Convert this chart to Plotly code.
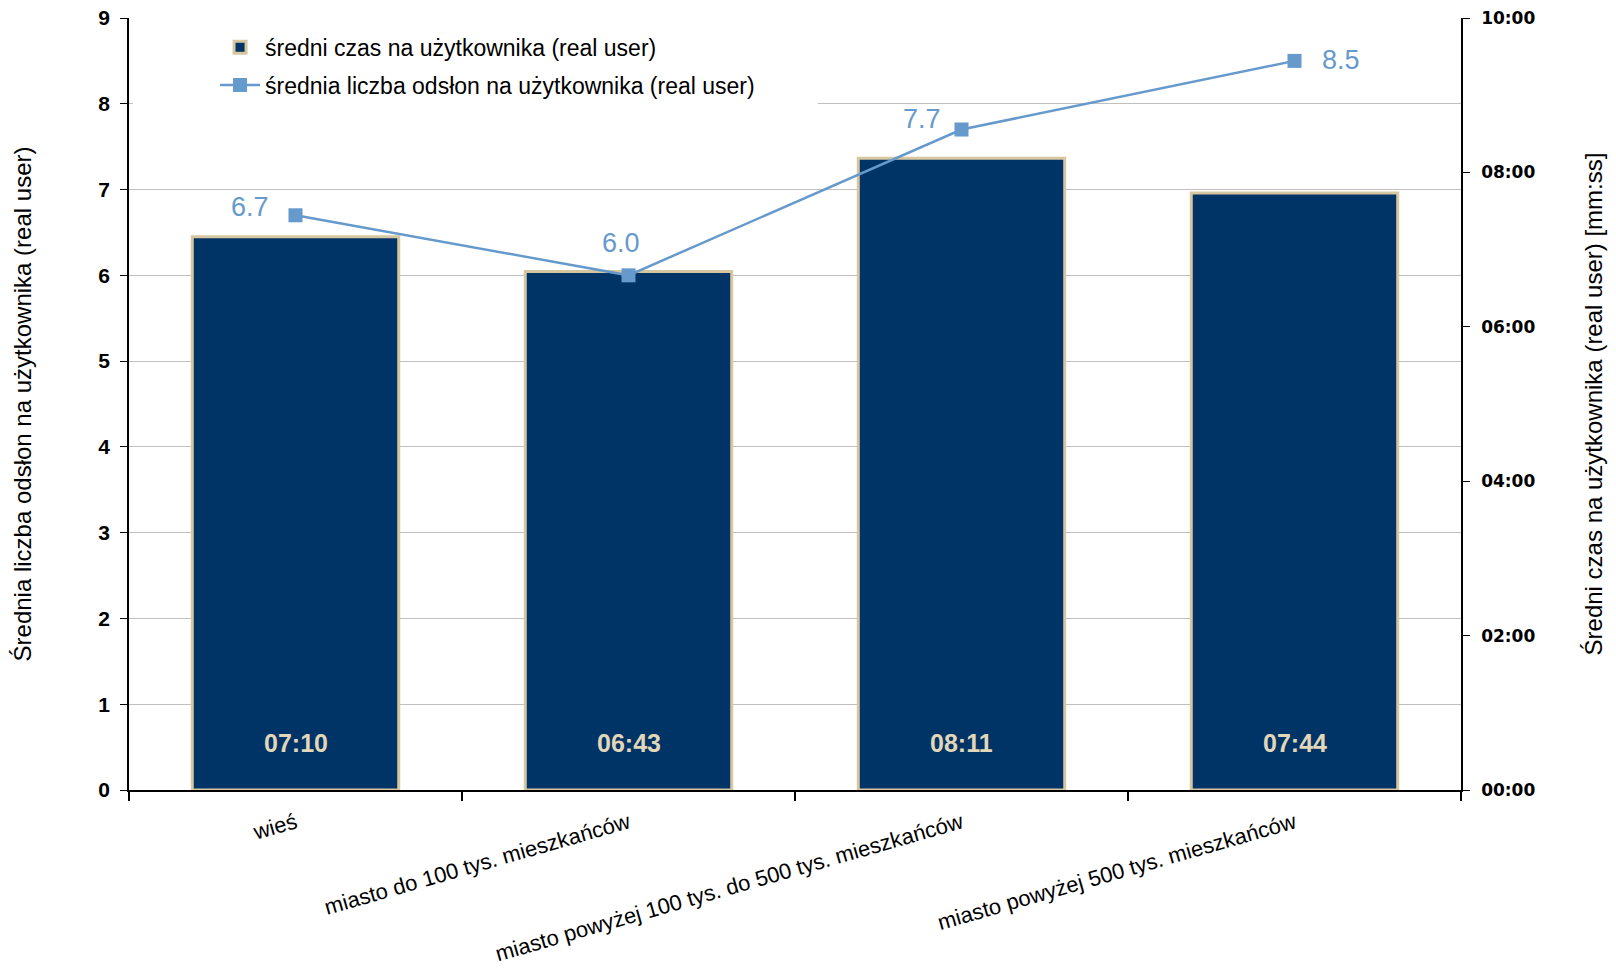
import plotly.graph_objects as go

categories = ["wieś", "miasto do 100 tys. mieszkańców",
              "miasto powyżej 100 tys. do 500 tys. mieszkańców",
              "miasto powyżej 500 tys. mieszkańców"]
time_seconds = [430, 403, 491, 464]          # średni czas (mm:ss -> s)
pageviews = [6.7, 6.0, 7.7, 8.5]             # średnia liczba odsłon
left_ticks = [0, 1, 2, 3, 4, 5, 6, 7, 8, 9]
right_tickvals = [0, 120, 240, 360, 480, 600]
right_ticktext = ["00:00", "02:00", "04:00", "06:00", "08:00", "10:00"]

# label offsets (pixels) for the line's value labels – style only
pv_label_shift = [(-46, 8), (-8, 32), (-40, 11), (46, 1)]


def mmss(s):
    return f"{s // 60:02d}:{s % 60:02d}"


NAVY = "#003366"
BEIGE = "#D6C7A1"
BLUE = "#6699CC"
SANS = "Liberation Sans, Arial"

fig = go.Figure()
fig.add_trace(go.Bar(
    x=categories, y=time_seconds, yaxis="y",
    name="średni czas na użytkownika (real user)", legendgroup="a",
    marker=dict(color=NAVY, line=dict(color=BEIGE, width=3)),
))
fig.add_trace(go.Scatter(
    x=categories, y=pageviews, yaxis="y2",
    mode="lines+markers",
    name="średnia liczba odsłon na użytkownika (real user)", legendgroup="b",
    line=dict(color=BLUE, width=2.5),
    marker=dict(symbol="square", size=14, color=BLUE),
    cliponaxis=False,
))

annotations = []
for c, s in zip(categories, time_seconds):
    annotations.append(dict(
        x=c, y=0, xref="x", yref="y", yanchor="bottom", yshift=31,
        text=f"<b>{mmss(s)}</b>", showarrow=False,
        font=dict(family=SANS, size=25, color="#E2D7B8"),
    ))
for c, v, (dx, dy) in zip(categories, pageviews, pv_label_shift):
    annotations.append(dict(
        x=c, y=v, xref="x", yref="y2", xanchor="center", yanchor="middle",
        xshift=dx, yshift=dy, text=f"{v:.1f}", showarrow=False,
        font=dict(family=SANS, size=27, color=BLUE),
    ))

fig.update_layout(
    width=1616, height=968,
    margin=dict(l=129, r=155, t=18, b=178, autoexpand=False),
    plot_bgcolor="white", paper_bgcolor="white",
    bargap=0.38,
    showlegend=True,
    legend=dict(x=0.0646, y=0.99, xanchor="left", yanchor="top",
                bgcolor="white", traceorder="grouped",
                font=dict(family=SANS, size=23, color="black"),
                tracegroupgap=5, itemwidth=40),
    xaxis=dict(
        type="category", tickson="boundaries", ticks="outside", ticklen=9,
        tickcolor="black", tickwidth=1.5, showline=True, linecolor="black",
        linewidth=1.5, showgrid=False, tickangle=-16, automargin=False,
        ticklabelstandoff=10,
        tickfont=dict(family=SANS, size=22, color="black"),
    ),
    yaxis=dict(
        side="right", range=[0, 600], tickvals=right_tickvals,
        ticktext=right_ticktext, ticks="outside", ticklen=7,
        tickcolor="black", showline=True, linecolor="black", linewidth=1.5,
        showgrid=False, zeroline=False, automargin=False,
        ticklabelstandoff=8,
        tickfont=dict(family="DejaVu Sans, Verdana", size=17, color="black",
                      weight="bold"),
        title=dict(text="Średni czas na użytkownika (real user) [mm:ss]",
                   font=dict(family=SANS, size=24, color="black"),
                   standoff=51),
    ),
    yaxis2=dict(
        overlaying="y", side="left", range=[0, 9], tickvals=left_ticks,
        ticks="outside", ticklen=7, tickcolor="black", showline=True,
        linecolor="black", linewidth=1.5, showgrid=True, gridcolor="#C0C0C0",
        gridwidth=1, zeroline=False, automargin=False,
        ticklabelstandoff=6,
        tickfont=dict(family=SANS, size=21, color="black", weight="bold"),
        title=dict(text="Średnia liczba odsłon na użytkownika (real user)",
                   font=dict(family=SANS, size=24, color="black"),
                   standoff=60),
    ),
    annotations=annotations,
    shapes=[dict(type="rect", xref="paper", yref="y", x0=0.003, x1=0.517,
                 y0=525, y1=542, fillcolor="white", line=dict(width=0),
                 layer="above")],
)

fig.write_html("out.html")
